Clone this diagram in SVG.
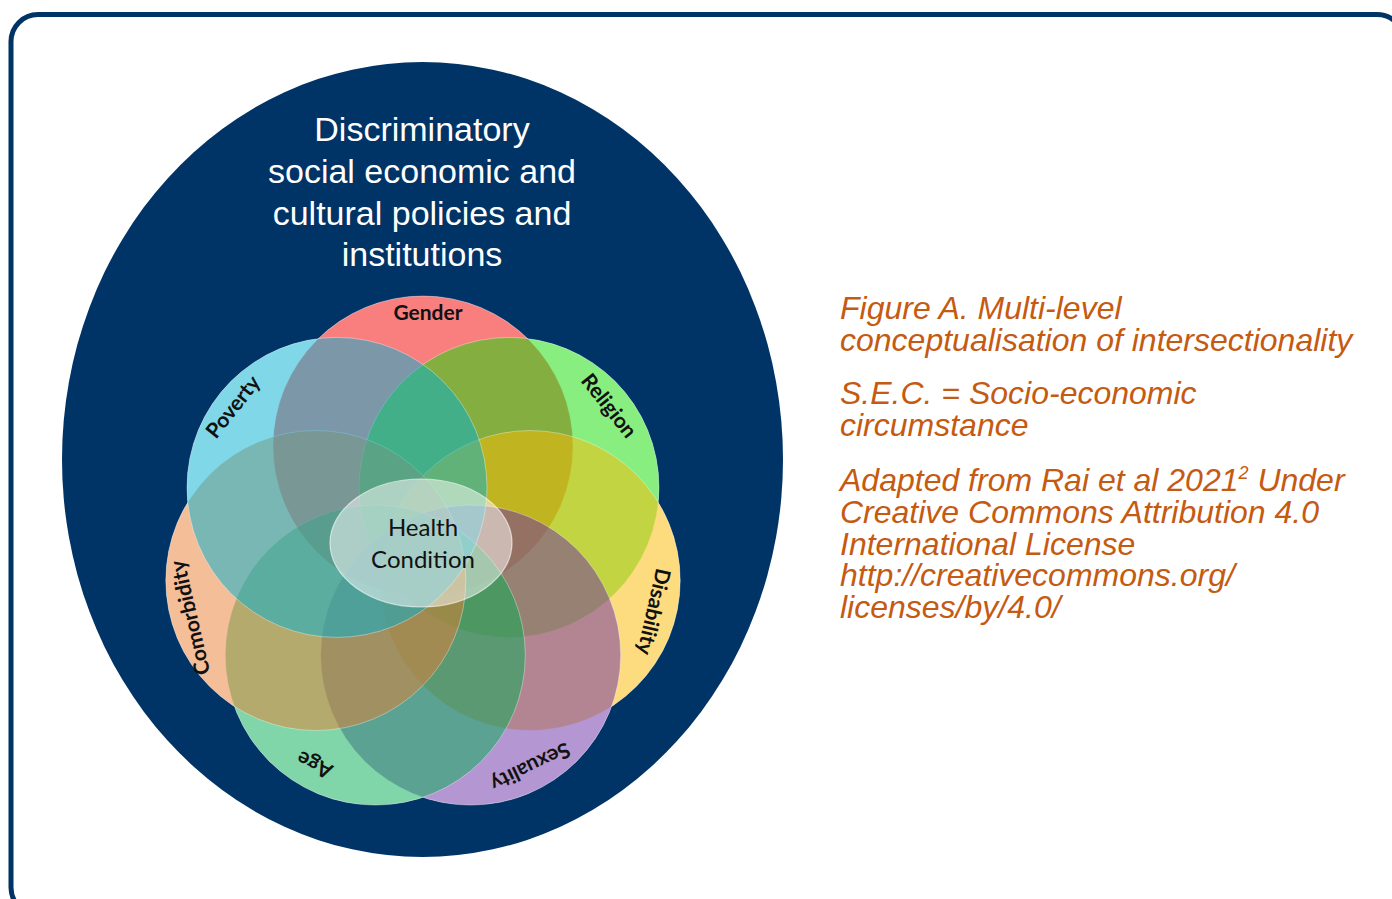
<svg xmlns="http://www.w3.org/2000/svg" width="1392" height="899" viewBox="0 0 1392 899">
<style>
.frame{fill:#ffffff;stroke:#003366;stroke-width:5}
.outer{fill:#003366}
.title{font-family:"Liberation Sans",Arial,sans-serif;font-size:34px;fill:#ffffff;text-anchor:middle}
.c{fill-opacity:0.5;stroke:#ffffff;stroke-opacity:0.35;stroke-width:1}
.lbl{font-family:Lato,"Open Sans",sans-serif;font-weight:bold;font-size:21px;fill:#111111;text-anchor:middle;dominant-baseline:central}
.hc{fill:#ffffff;fill-opacity:0.5;stroke:#ffffff;stroke-opacity:0.6;stroke-width:1.2}
.hct{font-family:Lato,"Open Sans",sans-serif;font-size:24px;fill:#111111;text-anchor:middle}
.cap{font-family:"Liberation Sans",Arial,sans-serif;font-style:italic;font-size:32px;fill:#C55A11}
</style>
<rect class="frame" x="11" y="14.5" width="1393" height="900" rx="27"/>
<g id="context">
<ellipse class="outer" cx="422.5" cy="459.5" rx="360.5" ry="397.5"/>
<text class="title"><tspan x="422" y="141">Discriminatory</tspan><tspan x="422" y="183">social economic and</tspan><tspan x="422" y="225">cultural policies and</tspan><tspan x="422" y="266">institutions</tspan></text>
</g>
<g id="underlay" fill="#ffffff">
<circle cx="423" cy="446" r="150"/>
<circle cx="509" cy="487.4" r="150"/>
<circle cx="530.2" cy="580.5" r="150"/>
<circle cx="470.7" cy="655.1" r="150"/>
<circle cx="375.3" cy="655.1" r="150"/>
<circle cx="315.8" cy="580.5" r="150"/>
<circle cx="337" cy="487.4" r="150"/>
</g>
<g id="gender">
<circle class="c" cx="423" cy="446" r="150" fill="rgb(243,0,0)"/>
<text class="lbl" x="428" y="311">Gender</text>
</g>
<g id="religion">
<circle class="c" cx="509" cy="487.4" r="150" fill="rgb(17,221,1)"/>
<text class="lbl" transform="translate(610 405) rotate(51.43)">Religion</text>
</g>
<g id="disability">
<circle class="c" cx="530.2" cy="580.5" r="150" fill="rgb(251,185,1)"/>
<text class="lbl" transform="translate(655 612) rotate(102.86)">Disability</text>
</g>
<g id="sexuality">
<circle class="c" cx="470.7" cy="655.1" r="150" fill="rgb(105,45,165)"/>
<text class="lbl" transform="translate(531 768) rotate(154.29)">Sexuality</text>
</g>
<g id="age">
<circle class="c" cx="375.3" cy="655.1" r="150" fill="rgb(1,173,81)"/>
<text class="lbl" transform="translate(314 766) rotate(205.71)">Age</text>
</g>
<g id="comorbidity">
<circle class="c" cx="315.8" cy="580.5" r="150" fill="rgb(231,125,49)"/>
<text class="lbl" transform="translate(189 618) rotate(257.14)">Comorbidity</text>
</g>
<g id="poverty">
<circle class="c" cx="337" cy="487.4" r="150" fill="rgb(0,175,209)"/>
<text class="lbl" transform="translate(232 406) rotate(-51.43)">Poverty</text>
</g>
<g id="health-condition">
<ellipse class="hc" cx="421" cy="543" rx="91" ry="64"/>
<text class="hct"><tspan x="423" y="536">Health</tspan><tspan x="423" y="568">Condition</tspan></text>
</g>
<g id="connectors"/>
<g id="caption">
<text class="cap"><tspan x="840" y="319">Figure A. Multi-level</tspan><tspan x="840" y="351">conceptualisation of intersectionality</tspan></text>
<text class="cap"><tspan x="840" y="404">S.E.C. = Socio-economic</tspan><tspan x="840" y="436">circumstance</tspan></text>
<text class="cap"><tspan x="840" y="491">Adapted from Rai et al 2021<tspan font-size="18" dy="-12">2</tspan><tspan dy="12"> Under</tspan></tspan><tspan x="840" y="523">Creative Commons Attribution 4.0</tspan><tspan x="840" y="555">International License</tspan><tspan x="840" y="586">http://creativecommons.org/</tspan><tspan x="840" y="618">licenses/by/4.0/</tspan></text>
</g>
</svg>
